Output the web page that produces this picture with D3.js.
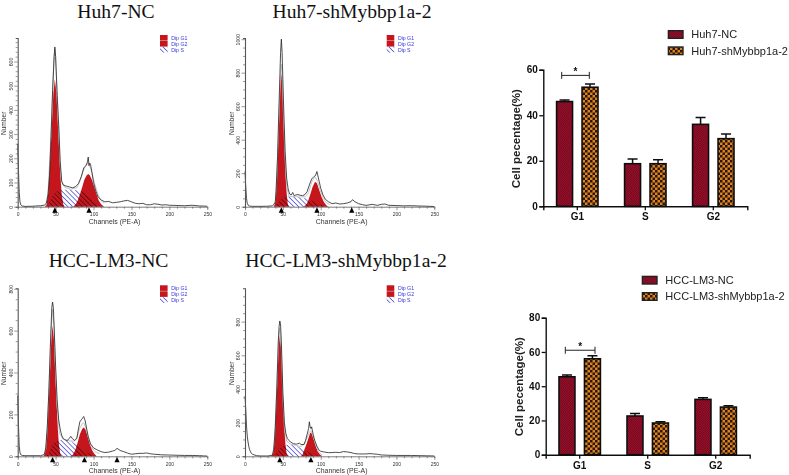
<!DOCTYPE html>
<html><head><meta charset="utf-8">
<script src="https://cdn.jsdelivr.net/npm/d3@7/dist/d3.min.js"></script>
<style>html,body{margin:0;padding:0;background:#fff}svg{display:block}</style>
</head><body><svg id="c" width="789" height="475"></svg>
<script>
// ---------- flow cytometry data: [channel, count] ----------
const huhNcTrace=[[0,260],[1,150],[2,60],[3,20],[4,8],[6,3],[10,1],[20,2],[30,4],[35,6],[38,15],[40,50],[42,130],[44,290],[46,480],[48,620],[49,660],[50,620],[52,460],[54,340],[56,190],[58,105],[60,90],[64,85],[68,82],[72,78],[76,82],[80,95],[84,125],[87,160],[90,170],[92,185],[93,205],[94,170],[95,180],[96,175],[98,140],[100,100],[103,65],[106,40],[110,28],[115,20],[120,22],[125,16],[130,18],[135,20],[140,24],[145,26],[150,20],[155,14],[160,12],[165,14],[170,8],[175,8],[180,12],[185,10],[190,7],[195,8],[200,6],[210,5],[220,4],[230,6],[240,3],[250,2]];
const huhNcG1=[[36,0],[38,10],[40,50],[41.3,110],[44.8,317],[47,470],[49,527],[51,470],[53.3,317],[56.7,110],[58,50],[60,10],[62,0]];
const huhNcG2=[[73,0],[76,8],[79,25],[82,50],[85,80],[88,112],[91,130],[93,135],[95,130],[98,110],[101,80],[104,50],[107,25],[110,10],[114,0]];
const huhNcS=[[39,0],[42,20],[46,45],[50,60],[55,68],[60,70],[70,70],[80,68],[85,62],[90,52],[95,40],[100,25],[105,12],[110,0]];
const huhNcFit=[[37,3],[40,60],[43,240],[46,470],[48,620],[49,650],[50,620],[52,480],[54,330],[56,170],[58,105],[62,80],[70,72],[78,78],[82,105],[85,135],[88,160],[91,175],[93,178],[96,160],[99,125],[102,90],[106,50],[110,25],[114,15]];

const huhShTrace=[[0,210],[1,120],[2,50],[3,20],[4,10],[6,4],[10,2],[20,2],[30,3],[36,5],[38,12],[40,30],[41,90],[43,300],[45,620],[47,920],[48,1000],[49,920],[50,760],[51,600],[53,330],[55,170],[57,105],[59,75],[61,70],[63,85],[65,65],[67,70],[70,72],[73,68],[76,66],[79,72],[82,90],[85,130],[88,165],[91,180],[93,185],[95,210],[96,190],[98,150],[100,110],[103,70],[106,45],[110,30],[115,18],[120,22],[125,16],[130,18],[135,22],[140,30],[142,42],[145,30],[150,18],[155,12],[160,8],[168,14],[175,8],[180,14],[185,16],[190,8],[200,7],[210,5],[220,6],[230,4],[240,3],[250,1]];
const huhShG1=[[38,0],[39.5,16],[41,80],[42,160],[44.8,478],[46.5,720],[48,796],[49.5,720],[51.2,478],[54,160],[55,80],[56.5,16],[58,0]];
const huhShG2=[[77,0],[80,8],[83,30],[86,70],[89,115],[92,145],[93,148],[95,140],[98,100],[101,60],[104,30],[107,10],[110,0]];
const huhShS=[[40,0],[44,25],[48,45],[52,55],[56,60],[65,58],[75,55],[80,50],[85,42],[90,32],[95,22],[100,12],[105,4],[108,0]];
const huhShFit=[[40,25],[42,170],[45,560],[47,790],[48,850],[49,790],[51,520],[53,280],[55,120],[58,62],[65,60],[75,58],[80,60],[84,85],[88,145],[91,170],[93,175],[96,150],[99,100],[103,55],[107,25],[112,12]];

const hccNcTrace=[[0,290],[1,150],[2,50],[3,18],[4,8],[6,4],[10,3],[20,3],[30,3],[35,8],[37,40],[39,140],[41,300],[43,520],[45,710],[46,736],[47,710],[48,620],[49,520],[50,430],[52,270],[54,175],[56,130],[58,100],[60,85],[62,80],[65,75],[68,85],[70,95],[72,85],[75,75],[78,85],[80,130],[82,165],[84,175],[86,185],[87,190],[89,170],[91,130],[93,95],[96,60],[100,40],[105,30],[110,22],[115,18],[120,20],[125,25],[128,28],[131,38],[135,28],[140,22],[145,15],[150,10],[155,12],[160,14],[165,14],[170,16],[175,12],[180,10],[190,7],[200,6],[210,5],[220,4],[230,4],[240,3],[245,2],[250,1]];
const hccNcG1=[[34,0],[36,12],[37.8,62],[39,125],[42.2,375],[44.3,560],[46,625],[47.7,560],[49.8,375],[53,125],[54.2,62],[56,12],[58,0]];
const hccNcG2=[[70,0],[73,8],[76,30],[79,65],[82,105],[85,130],[87,138],[89,130],[92,100],[95,60],[98,30],[101,12],[104,0]];
const hccNcS=[[38,0],[42,25],[46,55],[50,70],[54,78],[60,78],[70,72],[75,62],[80,48],[85,35],[90,22],[95,12],[100,4],[104,0]];
const hccNcFit=[[37,30],[39,130],[42,390],[44,600],[46,700],[48,620],[50,400],[52,240],[55,110],[60,80],[68,74],[74,72],[78,90],[82,135],[85,155],[87,160],[90,135],[93,90],[97,45],[102,22],[108,12]];

const hccShTrace=[[0,358],[1,280],[2,180],[3,120],[4,85],[5,60],[6,40],[8,20],[10,12],[15,4],[20,2],[30,2],[36,6],[38,40],[40,170],[42,400],[44,680],[45,770],[46,804],[47,780],[48,680],[50,380],[52,200],[54,135],[56,105],[58,95],[60,85],[64,75],[68,72],[72,78],[74,70],[78,70],[80,95],[82,130],[84,165],[85,205],[86,175],[87,165],[88,175],[90,130],[92,95],[95,60],[98,35],[100,30],[105,25],[110,22],[115,22],[120,24],[125,22],[130,28],[135,26],[140,22],[145,16],[150,14],[155,14],[160,14],[165,16],[170,14],[175,12],[180,8],[190,6],[200,5],[210,5],[220,5],[230,4],[240,3],[250,2]];
const hccShG1=[[35,0],[37,14],[38.6,72],[39.7,143],[42.6,430],[44.5,650],[46,717],[47.5,650],[49.4,430],[52.3,143],[53.4,72],[55,14],[57,0]];
const hccShG2=[[74,0],[76,10],[78,35],[81,70],[84,110],[86,138],[87,140],[88,136],[90,110],[93,65],[96,30],[99,10],[102,0]];
const hccShS=[[38,0],[42,22],[46,45],[50,60],[54,68],[60,68],[68,62],[74,50],[80,35],[85,22],[90,12],[95,5],[100,0]];
const hccShFit=[[37,20],[39,100],[42,420],[44,690],[46,760],[48,640],[50,350],[52,170],[55,90],[60,72],[68,64],[74,58],[78,72],[82,110],[85,145],[87,152],[90,120],[93,75],[97,25],[102,8]];

const flowLegend=["Dip G1","Dip G2","Dip S"];
const xTickMajor=[0,50,100,150,200,250];

// ---------- bar chart data ----------
const phases=["G1","S","G2"];
const huhSeries=["Huh7-NC","Huh7-shMybbp1a-2"];
const huhNcPct=[46,18.7,36];
const huhShPct=[52.3,18.7,29.7];
const huhNcErr=[0.7,2.1,3];
const huhShErr=[1.4,1.8,2.1];
const hccSeries=["HCC-LM3-NC","HCC-LM3-shMybbp1a-2"];
const hccNcPct=[45.5,22.6,32.3];
const hccShPct=[56,18.5,27.8];
const hccNcErr=[1,1.5,1];
const hccShErr=[1.8,0.8,0.8];

// ---------- drawing ----------
const svg=d3.select("#c");
const defs=svg.append("defs");
function hatch(id,color,w){
  const p=defs.append("pattern").attr("id",id).attr("width",3.4).attr("height",3.4)
    .attr("patternUnits","userSpaceOnUse").attr("patternTransform","rotate(-45)");
  p.append("line").attr("x1",0).attr("x2",0).attr("y1",0).attr("y2",3.4).attr("stroke",color).attr("stroke-width",w);
}
hatch("hBlue","#4a4ad8",1.5);hatch("hBlack","#2a0a0a",1.2);
let p=defs.append("pattern").attr("id","redCheck").attr("width",2.4).attr("height",2.4).attr("patternUnits","userSpaceOnUse");
p.append("rect").attr("width",2.4).attr("height",2.4).attr("fill","#bb1030");
p.append("rect").attr("width",1.2).attr("height",1.2).attr("fill","#50101a");
p.append("rect").attr("x",1.2).attr("y",1.2).attr("width",1.2).attr("height",1.2).attr("fill","#50101a");
p=defs.append("pattern").attr("id","orangeCheck").attr("width",5).attr("height",5).attr("patternUnits","userSpaceOnUse");
p.append("rect").attr("width",5).attr("height",5).attr("fill","#dd8420");
p.append("rect").attr("width",2.5).attr("height",2.5).attr("fill","#2b1608");
p.append("rect").attr("x",2.5).attr("y",2.5).attr("width",2.5).attr("height",2.5).attr("fill","#2b1608");

const titleFont="'Liberation Serif','Times New Roman',serif", sans="'Liberation Sans',Arial,sans-serif";
function title(t,x,y){svg.append("text").attr("x",x).attr("y",y).attr("text-anchor","middle")
  .attr("font-family",titleFont).attr("font-size",19.6).attr("fill","#111").text(t);}

function flow(cfg,idx){
  const g=svg.append("g").attr("filter","url(#soft)");
  const x=d3.scaleLinear().domain([0,250]).range([cfg.x0,cfg.x1]);
  const y=d3.scaleLinear().domain([0,cfg.yMax]).range([cfg.base,cfg.top]);
  const area=d3.area().x(d=>x(d[0])).y0(y(0)).y1(d=>y(d[1])).curve(d3.curveLinear);
  const line=d3.line().x(d=>x(d[0])).y(d=>y(d[1])).curve(d3.curveLinear);
  const clip=defs.append("clipPath").attr("id","redClip"+idx);
  clip.append("path").attr("d",area(cfg.g1));clip.append("path").attr("d",area(cfg.g2));
  g.append("path").attr("d",area(cfg.s)).attr("fill","url(#hBlue)");
  g.append("path").attr("d",area(cfg.g1)).attr("fill","#c4161c");
  g.append("path").attr("d",area(cfg.g2)).attr("fill","#c4161c");
  g.append("path").attr("d",area(cfg.s)).attr("fill","url(#hBlack)").attr("clip-path",`url(#redClip${idx})`);
  g.append("path").attr("d",line(cfg.fit)).attr("fill","none").attr("stroke","#bdbdbd").attr("stroke-width",0.9);
  g.append("path").attr("d",line(cfg.trace)).attr("fill","none").attr("stroke","#222").attr("stroke-width",0.8);
  // axes
  const xMinor=d3.range(0,251,10);
  const ax=g.append("g").attr("transform",`translate(0,${cfg.base})`)
    .call(d3.axisBottom(x).tickValues(xMinor).tickSize(2).tickPadding(4).tickFormat(d=>xTickMajor.includes(d)?d:""));
  ax.selectAll("text").attr("font-family",sans).attr("font-size",5).attr("fill","#333");
  ax.selectAll("line").attr("stroke","#555").attr("stroke-width",0.6)
    .attr("y2",d=>xTickMajor.includes(d)?3.5:2);
  ax.select(".domain").attr("stroke","#444").attr("stroke-width",0.7);
  const yMinor=d3.range(0,cfg.yMax,cfg.minor);
  const ay=g.append("g").attr("transform",`translate(${cfg.x0},0)`)
    .call(d3.axisLeft(y).tickValues(yMinor).tickSize(2).tickFormat(d=>d%cfg.major===0?d:""));
  ay.selectAll("line").attr("stroke","#555").attr("stroke-width",0.6)
    .attr("x2",d=>d%cfg.major===0?-3.5:-2);
  ay.select(".domain").attr("stroke","#555").attr("stroke-width",1.1);
  ay.selectAll("text").attr("font-family",sans).attr("font-size",5.2).attr("fill","#333")
    .attr("text-anchor","middle").attr("x",0).attr("y",0).attr("dy",0)
    .attr("transform","translate(-5,0) rotate(-90)");
  // labels
  g.append("text").attr("x",(cfg.x0+cfg.x1)/2+2).attr("y",cfg.base+17).attr("text-anchor","middle")
    .attr("font-family",sans).attr("font-size",6.9).attr("fill","#333").text("Channels (PE-A)");
  g.append("text").attr("transform",`translate(${cfg.numX},${(cfg.base+cfg.top)/2+1}) rotate(-90)`)
    .attr("text-anchor","middle").attr("font-family",sans).attr("font-size",6.6).attr("fill","#333").text("Number");
  // peak markers
  g.selectAll("path.mk").data(cfg.marks).join("path").attr("class","mk")
    .attr("d",d=>`M${x(d)},${cfg.base+0.6}l2.6,5.4h-5.2z`).attr("fill","#000");
  // legend
  flowLegend.forEach((t,i)=>{
    const ly=cfg.top+i*6;
    g.append("rect").attr("x",cfg.legX).attr("y",ly-3).attr("width",7.6).attr("height",5.6)
      .attr("fill",i<2?"#c4161c":"url(#hBlue)");
    g.append("text").attr("x",cfg.legX+11.2).attr("y",ly+1.8).attr("font-family",sans).attr("font-size",5.2)
      .attr("fill","#3333dd").text(t);
  });
}

const soft=defs.append("filter").attr("id","soft").attr("x","-5%").attr("y","-5%").attr("width","110%").attr("height","110%");
soft.append("feGaussianBlur").attr("stdDeviation",0.3);

title("Huh7-NC",116,17.5);title("Huh7-shMybbp1a-2",352,17.5);
title("HCC-LM3-NC",108.5,267);title("HCC-LM3-shMybbp1a-2",346,267);

flow({x0:17.7,x1:207.3,base:206.7,top:38,yMax:697,minor:20,major:100,numX:6,legX:160,marks:[49,94],trace:huhNcTrace,g1:huhNcG1,g2:huhNcG2,s:huhNcS,fit:huhNcFit},0);
flow({x0:245,x1:434.3,base:206.7,top:38,yMax:1007,minor:50,major:200,numX:234,legX:386.7,marks:[48,95,141],trace:huhShTrace,g1:huhShG1,g2:huhShG2,s:huhShS,fit:huhShFit},1);
flow({x0:17.7,x1:207.3,base:456.3,top:288.3,yMax:802,minor:50,major:200,numX:6,legX:160,marks:[46,88,131],trace:hccNcTrace,g1:hccNcG1,g2:hccNcG2,s:hccNcS,fit:hccNcFit},2);
flow({x0:245,x1:434.3,base:456.3,top:288.3,yMax:998,minor:50,major:200,numX:234,legX:386.7,marks:[46,87],trace:hccShTrace,g1:hccShG1,g2:hccShG2,s:hccShS,fit:hccShFit},3);

function bars(cfg){
  const g=svg.append("g").attr("filter","url(#soft2)");
  const x=d3.scaleBand().domain(phases).range([cfg.x0,cfg.x0+204]);
  const sub=d3.scaleBand().domain([0,1]).range([12.5,55.5]).paddingInner(0.31);
  const y=d3.scaleLinear().domain([0,cfg.yMax]).range([cfg.base,cfg.top]);
  const rows=[];
  [0,1].forEach(s=>phases.forEach((ph,i)=>rows.push({ph,s,v:cfg.vals[s][i],e:cfg.errs[s][i]})));
  const sw=1.6;
  g.selectAll("path.err").data(rows).join("path").attr("class","err")
    .attr("d",d=>{const c=x(d.ph)+sub(d.s)+sub.bandwidth()/2;
      return `M${c},${y(d.v)}V${y(d.v+d.e)}M${c-5},${y(d.v+d.e)}H${c+5}`;})
    .attr("stroke","#111").attr("stroke-width",1.5).attr("fill","none");
  g.selectAll("rect.bar").data(rows).join("rect").attr("class","bar")
    .attr("x",d=>x(d.ph)+sub(d.s)+sw/2).attr("width",sub.bandwidth()-sw)
    .attr("y",d=>y(d.v)).attr("height",d=>cfg.base-y(d.v))
    .attr("fill",d=>d.s?"url(#orangeCheck)":"url(#redCheck)").attr("stroke","#111").attr("stroke-width",sw);
  const ay=g.append("g").attr("transform",`translate(${cfg.x0},0)`)
    .call(d3.axisLeft(y).tickValues(cfg.ticks).tickSize(4).tickPadding(1.5));
  const ax=g.append("g").attr("transform",`translate(0,${cfg.base})`)
    .call(d3.axisBottom(x).tickSize(4).tickPadding(3));
  [ax,ay].forEach(a=>{
    a.selectAll("text").attr("font-family",sans).attr("font-size",10).attr("font-weight","bold").attr("fill","#111");
    a.selectAll("line").attr("stroke","#111").attr("stroke-width",1.3);
    a.select(".domain").attr("stroke","#111").attr("stroke-width",1.4);
  });
  g.append("text").attr("transform",`translate(${cfg.labX},${cfg.labY}) rotate(-90)`).attr("text-anchor","middle")
    .attr("font-family",sans).attr("font-size",11.5).attr("font-weight","bold").attr("fill","#222").text("Cell pecentage(%)");
  // significance
  const by=y(cfg.brVal);
  g.append("path").attr("d",`M${cfg.br0},${by-3.5}V${by+3.5}M${cfg.br0},${by}H${cfg.br1}M${cfg.br1},${by-3.5}V${by+3.5}`)
    .attr("stroke","#222").attr("fill","none").attr("stroke-width",1);
  g.append("text").attr("x",(cfg.br0+cfg.br1)/2).attr("y",by-0.5).attr("text-anchor","middle")
    .attr("font-family",sans).attr("font-size",10).attr("font-weight","bold").attr("fill","#111").text("*");
  // legend
  cfg.series.forEach((t,i)=>{
    const ly=cfg.legY+i*cfg.legStep;
    g.append("rect").attr("x",cfg.legX+0.7).attr("y",ly+0.7).attr("width",14.6).attr("height",7.6)
      .attr("fill",i?"url(#orangeCheck)":"url(#redCheck)").attr("stroke","#222").attr("stroke-width",1.4);
    g.append("text").attr("x",cfg.legX+23.6).attr("y",ly+8.3).attr("font-family",sans).attr("font-size",11)
      .attr("fill","#222").text(t);
  });
}
const soft2=defs.append("filter").attr("id","soft2").attr("x","-5%").attr("y","-5%").attr("width","110%").attr("height","110%");
soft2.append("feGaussianBlur").attr("stdDeviation",0.25);

bars({x0:543.3,base:206.3,top:69.7,yMax:60,ticks:[0,20,40,60],vals:[huhNcPct,huhShPct],errs:[huhNcErr,huhShErr],series:huhSeries,
  labX:520,labY:138.7,brVal:57.5,br0:561.7,br1:589.3,legX:667.7,legY:30,legStep:16.3});
bars({x0:545.7,base:454.7,top:317.7,yMax:80,ticks:[0,20,40,60,80],vals:[hccNcPct,hccShPct],errs:[hccNcErr,hccShErr],series:hccSeries,
  labX:523,labY:386.7,brVal:61,br0:565.3,br1:595,legX:641.7,legY:275.7,legStep:16.3});
</script></body></html>
